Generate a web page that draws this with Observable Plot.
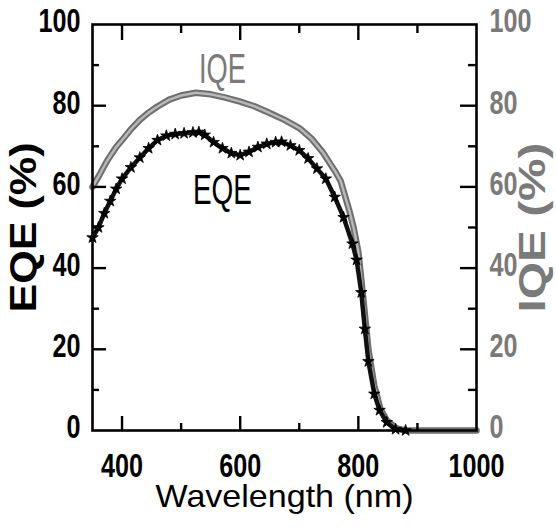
<!DOCTYPE html>
<html>
<head>
<meta charset="utf-8">
<script src="https://cdn.jsdelivr.net/npm/d3@7"></script>
<script src="https://cdn.jsdelivr.net/npm/@observablehq/plot@0.6"></script>
<style>
  html, body { margin: 0; padding: 0; background: #ffffff; }
  #chart svg { display: block; }
</style>
</head>
<body>
<div id="chart"></div>
<script>
// ---- data ----
const iqeWavelength = [350,360,375,390,400,415,430,445,460,480,500,525,550,575,600,625,650,675,700,720,740,760,770,785,792,800,808,817,827,837,848,865,880,1000];
const iqeValues     = [60,62.5,66.5,69.8,71.5,74.2,76.5,78.3,79.8,81.5,82.5,83.2,82.8,82,81,79.8,78.2,76.5,74.5,72,68.5,64,61.5,54,50,44,33,20,11,5.5,2.5,0.5,0,0];

const eqeWavelength = [350,360,370,380,390,400,415,430,445,460,475,490,505,520,530,540,555,570,585,600,615,630,645,660,670,685,700,715,730,745,760,775,790,797,805,811,817,827,836,848,863,880];
const eqeValues     = [47.5,50,53.5,56.5,59.5,62,64.8,67.2,69.5,71.5,72.6,73,73.2,73.4,73.5,72.8,71,69.5,68.3,67.8,68.6,69.8,70.6,71,71.1,70.2,69,67,64.5,62,57.5,52.5,46,42,34,25,17,9,5,2,0.3,0];

const xTickLabels = [400, 600, 800, 1000];
const xMajorTicks = [400, 600, 800];
const xMinorTicks = [500, 700, 900];
const yTickLabels = [0, 20, 40, 60, 80, 100];
const yMajorTicks = [20, 40, 60, 80];
const yMinorTicks = [10, 30, 50, 70, 90];

const seriesNames  = ["IQE", "EQE"];
const seriesLabelX = [570, 570];
const seriesLabelY = [89, 59];

const iqe = iqeWavelength.map((w, i) => ({w, v: iqeValues[i]}));
const eqe = eqeWavelength.map((w, i) => ({w, v: eqeValues[i]}));
const seriesLabels = seriesNames.map((name, i) => ({name, x: seriesLabelX[i], y: seriesLabelY[i]}));

const FONT = "'Liberation Sans', Arial, sans-serif";
const GREY = "#7a7a7a";

const W = 556, H = 532, ML = 92, MR = 80, MT = 24, MB = 102;
const X_DOMAIN = [350, 1000], Y_DOMAIN = [0, 100];
// pixels -> data units, so tick lengths can be given in pixels
const pxX = p => p * (X_DOMAIN[1] - X_DOMAIN[0]) / (W - ML - MR);
const pxY = p => p * (Y_DOMAIN[1] - Y_DOMAIN[0]) / (H - MT - MB);

const tickStyle = { stroke: "#000", strokeWidth: 2.4 };
const bottomTicks = (data, len) => Plot.ruleX(data, { x: d => d, y1: Y_DOMAIN[0], y2: Y_DOMAIN[0] + pxY(len), ...tickStyle });
const topTicks    = (data, len) => Plot.ruleX(data, { x: d => d, y1: Y_DOMAIN[1], y2: Y_DOMAIN[1] - pxY(len), ...tickStyle });
const leftTicks   = (data, len) => Plot.ruleY(data, { y: d => d, x1: X_DOMAIN[0], x2: X_DOMAIN[0] + pxX(len), ...tickStyle });
const rightTicks  = (data, len) => Plot.ruleY(data, { y: d => d, x1: X_DOMAIN[1], x2: X_DOMAIN[1] - pxX(len), ...tickStyle });

const chart = Plot.plot({
  width: W,
  height: H,
  marginLeft: ML,
  marginRight: MR,
  marginTop: MT,
  marginBottom: MB,
  style: { fontFamily: FONT, background: "#ffffff" },
  x: { domain: X_DOMAIN },
  y: { domain: Y_DOMAIN },
  marks: [
    // IQE band (grey, hatched look)
    Plot.line(iqe, { x: "w", y: "v", stroke: "#6e6e6e", strokeWidth: 6.5 }),
    Plot.line(iqe, { x: "w", y: "v", stroke: "#b8b8b8", strokeWidth: 2.5 }),
    // EQE line with star markers
    Plot.line(eqe, { x: "w", y: "v", stroke: "#111", strokeWidth: 4.5 }),
    Plot.dot(eqe, { x: "w", y: "v", symbol: "star", r: 3.6, fill: "#000", stroke: "#000", strokeWidth: 0.8 }),

    Plot.frame({ stroke: "#000", strokeWidth: 2.6 }),

    // inward ticks
    bottomTicks(xMajorTicks, 14),
    bottomTicks(xMinorTicks, 7),
    topTicks(xMajorTicks, 16),
    topTicks(xMinorTicks, 9),
    leftTicks(yMajorTicks, 14),
    leftTicks(yMinorTicks, 7),
    rightTicks(yMajorTicks, 16),
    rightTicks(yMinorTicks, 8),

    // tick labels
    Plot.axisX(xTickLabels, { anchor: "bottom", tickSize: 0, tickPadding: 22, tickFormat: d => String(d), fontSize: 34, fontWeight: "bold", label: null, fill: "#000" }),
    Plot.axisY(yTickLabels, { anchor: "left", tickSize: 0, tickPadding: 12, dy: -3, tickFormat: d => String(d), fontSize: 34, fontWeight: "bold", label: null, fill: "#000" }),
    Plot.axisY(yTickLabels, { anchor: "right", tickSize: 0, tickPadding: 13, dy: -3, tickFormat: d => String(d), fontSize: 34, fontWeight: "bold", label: null, fill: GREY }),

    // axis titles
    Plot.text(["Wavelength (nm)"], { frameAnchor: "bottom", dy: 66, lineAnchor: "middle", textAnchor: "middle", fontSize: 32, fill: "#000" }),
    Plot.text(["EQE (%)"], { frameAnchor: "left", dx: -68, rotate: -90, lineAnchor: "middle", textAnchor: "middle", fontSize: 36, fontWeight: "bold", fill: "#000" }),
    Plot.text(["IQE (%)"], { frameAnchor: "right", dx: 57, rotate: -90, lineAnchor: "middle", textAnchor: "middle", fontSize: 36, fontWeight: "bold", fill: GREY }),

    // series labels
    Plot.text(seriesLabels, { x: "x", y: "y", text: "name", fontSize: 42,
      fill: d => d.name === "IQE" ? GREY : "#000",
      fontWeight: d => d.name === "IQE" ? "normal" : "bold",
      textAnchor: "middle", lineAnchor: "middle" })
  ]
});

document.getElementById("chart").append(chart);

// narrow the glyphs to match the condensed lettering of the reference
const targets = {
  "IQE": 47, "EQE": 59,
  "EQE (%)": 170, "IQE (%)": 170,
  "Wavelength (nm)": 258
};
chart.querySelectorAll("text").forEach(t => {
  const s = t.textContent.trim();
  if (!s) return;
  const len = t.getComputedTextLength();
  let target = null;
  if (s in targets) target = targets[s];
  else if (/^\d+$/.test(s)) target = len * 0.74;
  if (target && len > 0) {
    t.setAttribute("textLength", target.toFixed(1));
    t.setAttribute("lengthAdjust", "spacingAndGlyphs");
  }
});
</script>
</body>
</html>
